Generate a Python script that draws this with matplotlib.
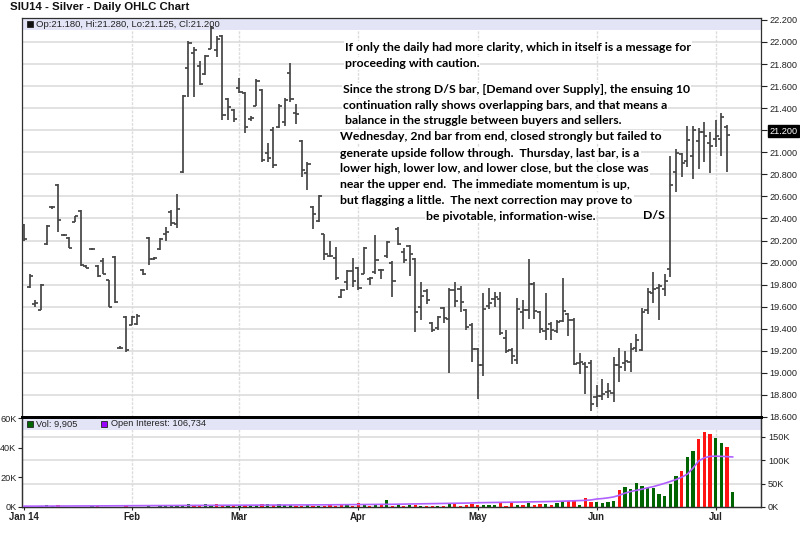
import numpy as np
import pandas as pd
import matplotlib
matplotlib.use("Agg")
import matplotlib.pyplot as plt
from matplotlib.patches import Rectangle

plt.rcParams['font.family'] = ['Liberation Sans', 'DejaVu Sans']

# ---------------------------------------------------------------- data
holidays = ['2014-01-20', '2014-02-17', '2014-04-18', '2014-05-26', '2014-07-04']
sessions = pd.bdate_range('2014-01-06', '2014-07-07', freq='C', holidays=holidays)

opens = [20.34, 19.78, 19.62, 19.57, 20.17, 20.50, 20.70, 20.25, 20.22, 20.37,
         20.47, 19.97, 20.12, 19.97, 20.01, 19.84, 20.05, 19.23, 19.51, 19.43,
         19.44, 19.93, 20.22, 20.03, 20.12, 20.26, 20.46, 20.35, 20.82, 21.76,
         21.90, 21.78, 21.71, 21.94, 21.93, 22.05, 21.48, 21.38, 21.58, 21.54,
         21.30, 21.42, 21.56, 20.99, 21.20, 21.23, 21.27, 21.72, 21.36, 21.10,
         20.81, 20.50, 20.38, 20.26, 20.06, 20.04, 19.69, 19.82, 19.92, 19.95,
         19.90, 19.85, 19.91, 19.93, 20.06, 20.00, 20.30, 20.10, 20.15, 20.03,
         19.60, 19.74, 19.45, 19.41, 19.59, 19.49, 19.75, 19.76, 19.57, 19.43,
         19.22, 19.07, 19.61, 19.67, 19.67, 19.32, 19.21, 19.12, 19.55, 19.57,
         19.81, 19.55, 19.38, 19.44, 19.38, 19.47, 19.53, 19.48, 19.09, 19.08,
         19.09, 18.78, 18.79, 18.83, 18.82, 19.07, 19.09, 19.10, 19.23, 19.21,
         19.57, 19.72, 19.77, 19.76, 19.94, 20.82, 20.98, 20.92, 20.97, 21.10,
         21.18, 21.08, 21.12, 21.12, 21.23]
highs = [20.35, 19.90, 19.66, 19.81, 20.34, 20.51, 20.71, 20.26, 20.23, 20.42,
         20.48, 19.98, 20.13, 19.98, 20.04, 19.84, 20.06, 19.24, 19.52, 19.52,
         19.53, 19.94, 20.23, 20.05, 20.22, 20.32, 20.48, 20.62, 21.52, 22.01,
         21.95, 21.83, 21.88, 22.14, 22.05, 22.06, 21.49, 21.39, 21.67, 21.55,
         21.33, 21.66, 21.57, 21.08, 21.23, 21.44, 21.49, 21.81, 21.44, 21.11,
         20.91, 20.51, 20.61, 20.26, 20.20, 20.14, 19.76, 19.93, 20.04, 19.96,
         20.14, 19.87, 20.25, 19.94, 20.20, 20.01, 20.32, 20.13, 20.16, 20.04,
         19.82, 19.76, 19.46, 19.52, 19.60, 19.77, 19.82, 19.79, 19.58, 19.45,
         19.23, 19.72, 19.77, 19.73, 19.73, 19.39, 19.23, 19.68, 19.66, 20.03,
         19.82, 19.56, 19.72, 19.46, 19.48, 19.86, 19.54, 19.50, 19.18, 19.10,
         19.12, 18.89, 18.94, 18.91, 19.14, 19.23, 19.20, 19.27, 19.35, 19.59,
         19.77, 19.91, 19.81, 19.90, 20.97, 21.03, 20.99, 21.24, 21.24, 21.22,
         21.27, 21.18, 21.29, 21.36, 21.25]
lows = [20.20, 19.77, 19.60, 19.57, 20.16, 20.49, 20.28, 20.24, 20.13, 20.37,
        19.97, 19.95, 20.11, 19.87, 19.90, 19.60, 19.63, 19.22, 19.19, 19.43,
        19.43, 19.89, 19.98, 20.02, 20.11, 20.20, 20.33, 20.31, 20.81, 21.50,
        21.50, 21.61, 21.70, 21.94, 21.86, 21.29, 21.29, 21.27, 21.54, 21.17,
        21.28, 21.42, 20.91, 20.91, 20.86, 21.22, 21.24, 21.46, 21.26, 20.78,
        20.66, 20.30, 20.37, 20.02, 20.05, 19.84, 19.68, 19.75, 19.78, 19.75,
        19.90, 19.80, 19.90, 19.85, 20.04, 19.69, 20.16, 20.00, 19.88, 19.37,
        19.48, 19.62, 19.37, 19.39, 19.45, 19.00, 19.60, 19.55, 19.39, 19.10,
        18.76, 18.97, 19.58, 19.60, 19.34, 19.18, 19.08, 19.08, 19.40, 19.49,
        19.49, 19.36, 19.30, 19.30, 19.36, 19.46, 19.33, 19.07, 18.99, 18.81,
        18.65, 18.69, 18.75, 18.77, 18.74, 18.92, 19.02, 19.01, 19.19, 19.20,
        19.53, 19.63, 19.48, 19.70, 19.87, 20.64, 20.78, 20.87, 20.76, 20.85,
        20.91, 20.81, 21.05, 20.97, 20.82]
closes = [20.21, 19.88, 19.63, 19.80, 20.33, 20.50, 20.39, 20.25, 20.13, 20.42,
          19.98, 19.95, 20.12, 19.88, 19.90, 19.60, 19.64, 19.23, 19.21, 19.51,
          19.52, 19.90, 20.03, 20.04, 20.21, 20.28, 20.36, 20.49, 21.51, 21.99,
          21.93, 21.62, 21.87, 22.13, 22.03, 21.34, 21.41, 21.30, 21.55, 21.23,
          21.31, 21.65, 20.93, 20.95, 20.88, 21.42, 21.47, 21.48, 21.35, 20.84,
          20.89, 20.44, 20.60, 20.08, 20.06, 19.86, 19.75, 19.92, 19.83, 19.77,
          20.13, 19.86, 20.02, 19.93, 20.19, 19.83, 20.17, 20.02, 20.08, 19.55,
          19.70, 19.66, 19.39, 19.51, 19.50, 19.75, 19.65, 19.64, 19.42, 19.22,
          19.07, 19.58, 19.63, 19.69, 19.36, 19.20, 19.15, 19.58, 19.57, 19.81,
          19.56, 19.40, 19.40, 19.39, 19.46, 19.56, 19.48, 19.08, 19.10, 19.05,
          18.72, 18.79, 18.81, 18.84, 19.07, 19.05, 19.11, 19.22, 19.30, 19.55,
          19.73, 19.76, 19.79, 19.83, 20.70, 20.99, 20.90, 21.11, 21.20, 21.18,
          21.15, 21.06, 21.15, 21.32, 21.16]

# latest (partial) session quote
last_open, last_high, last_low, last_close = 21.180, 21.280, 21.125, 21.200

volume = [100, 100, 150, 600, 1300, 700, 1100, 200, 150, 150,
          200, 150, 900, 900, 200, 150, 300, 200, 900, 300,
          200, 300, 1000, 300, 900, 1400, 1500, 500, 1400, 1900,
          1100, 1000, 2000, 1300, 2000, 1200, 1300, 1000, 1000, 1300,
          1400, 1400, 1800, 1800, 1100, 1800, 1200, 1100, 400, 1000,
          1100, 1000, 400, 1000, 1200, 1000, 1100, 1900, 500, 2400,
          1700, 1000, 1400, 1200, 4500, 600, 2200, 1000, 1200, 1500,
          800, 1000, 800, 800, 900, 2000, 2000, 1000, 1200, 2000,
          1500, 1500, 1300, 1500, 2700, 900, 2700, 1500, 1500, 2700,
          1500, 2000, 2000, 1100, 2700, 3900, 4100, 4100, 1500, 6400,
          3400, 3200, 2900, 3400, 3900, 11800, 13600, 12200, 16300, 14100,
          12900, 12500, 9100, 7200, 15300, 20900, 24300, 33900, 38000, 45900,
          50600, 49100, 46400, 43000, 40300, 9905]

open_interest = [1800, 1800, 1850, 1900, 1950, 2000, 2050, 2100, 2150, 2200,
                 2250, 2300, 2350, 2400, 2450, 2500, 2550, 2600, 2700, 2800,
                 2850, 2900, 2950, 3000, 3050, 3100, 3150, 3250, 3350, 3400,
                 3450, 3500, 3550, 3600, 3650, 3700, 3750, 3800, 3850, 3900,
                 3950, 4000, 4050, 4100, 4150, 4200, 4250, 4300, 4350, 4400,
                 4450, 4500, 4550, 4600, 4700, 4800, 4900, 5000, 5100, 5200,
                 5300, 5400, 5500, 5600, 5700, 5800, 6000, 6200, 6400, 6600,
                 6800, 7000, 7200, 7400, 7600, 7800, 8000, 8200, 8400, 8600,
                 9000, 9300, 9500, 9700, 9900, 10100, 10300, 10500, 10700, 10900,
                 11100, 11300, 11500, 11800, 12100, 12400, 12800, 13200, 13700, 14200,
                 15000, 17000, 18000, 19500, 21500, 25000, 29500, 33000, 35500, 38000,
                 41000, 43500, 47000, 50500, 54500, 58500, 63500, 70000, 83000, 98000,
                 105000, 108000, 108500, 108000, 107500, 106734]

price_ticks = [18.6, 18.8, 19.0, 19.2, 19.4, 19.6, 19.8, 20.0, 20.2, 20.4,
               20.6, 20.8, 21.0, 21.2, 21.4, 21.6, 21.8, 22.0, 22.2]
vol_ticks = [0, 20000, 40000, 60000]
oi_ticks = [0, 50000, 100000, 150000]

notes = [
    "If only the daily had more clarity, which in itself is a message for",
    "proceeding with caution.",
    "Since the strong D/S bar, [Demand over Supply], the ensuing 10",
    "continuation rally shows overlapping bars, and that means a",
    "balance in the struggle between buyers and sellers.",
    "Wednesday, 2nd bar from end, closed strongly but failed to",
    "generate upside follow through.  Thursday, last bar, is a",
    "lower high, lower low, and lower close, but the close was",
    "near the upper end.  The immediate momentum is up,",
    "but flagging a little.  The next correction may prove to",
    "be pivotable, information-wise.",
]

# ---------------------------------------------------------------- layout
W, H = 800, 542
fig = plt.figure(figsize=(W / 100, H / 100), dpi=100)
fig.patch.set_facecolor('white')

def fx(px):
    return px / W

def fy(py):
    return 1 - py / H

ax = fig.add_axes([fx(22), fy(417), 739 / W, 399 / H])
axv = fig.add_axes([fx(22), fy(507), 739 / W, 90 / H])

bar_color = '#454545'
grid_color = '#dadada'
up_color = '#006400'
down_color = '#ff1414'
oi_color = '#b060ff'
band_color = '#e3e5f7'

n_px = len(closes)
x = np.arange(n_px)
xv = np.arange(len(volume))
xlim = (-0.35, 130.0)

# month boundaries
month_start = [0] + [k for k in range(1, len(sessions)) if sessions[k].month != sessions[k - 1].month]
month_labels = ['Jan 14'] + [sessions[k].strftime('%b') for k in month_start[1:]]

# ---------------------------------------------------------------- price panel
ax.set_xlim(*xlim)
ax.set_ylim(18.6, 22.217)
ax.add_patch(Rectangle((0, 0.970), 1, 0.03, transform=ax.transAxes,
                       facecolor=band_color, edgecolor='none', zorder=1))

ax.vlines(x, lows, highs, color=bar_color, lw=1.25, zorder=3)
ax.hlines(opens, x - 0.55, x, color=bar_color, lw=1.25, zorder=3)
ax.hlines(closes, x, x + 0.55, color=bar_color, lw=1.25, zorder=3)

ax.set_yticks(price_ticks)
ax.set_yticklabels([f'{v:.3f}' for v in price_ticks])
ax.yaxis.tick_right()
ax.tick_params(axis='y', direction='out', length=4, width=0.8, pad=2,
               labelsize=6.6, colors='#222222')
for lab in ax.get_yticklabels():
    if lab.get_text() == f'{last_close:.3f}':
        lab.set_color('white')
        lab.set_bbox(dict(facecolor='black', edgecolor='black', pad=1.2))
ax.set_xticks(month_start[1:])
ax.tick_params(axis='x', length=0, labelbottom=False)
ax.grid(axis='y', color=grid_color, lw=1.1, zorder=0)
ax.grid(axis='x', color='#dcdcdc', lw=1.0, ls=(0, (2, 1)), zorder=0)
ax.set_axisbelow(True)
for side in ['left', 'top', 'right']:
    ax.spines[side].set_color('#303030')
    ax.spines[side].set_linewidth(0.9)
ax.spines['bottom'].set_color('black')
ax.spines['bottom'].set_linewidth(2.0)

# ---------------------------------------------------------------- volume panel
vol_top = 60700
oi_top = 192000
all_closes = closes + [last_close]
vol_colors = [up_color] + [up_color if all_closes[k] >= all_closes[k - 1] else down_color
                           for k in range(1, len(all_closes))]

axv.set_xlim(*xlim)
axv.set_ylim(0, vol_top)
axv.add_patch(Rectangle((0, 0.855), 1, 0.145, transform=axv.transAxes,
                        facecolor=band_color, edgecolor='none', zorder=1))
for t in oi_ticks[1:]:
    axv.axhline(t * vol_top / oi_top, color=grid_color, lw=1.1, zorder=0)
for k in month_start[1:]:
    axv.axvline(k, color='#dcdcdc', lw=1.0, ls=(0, (2, 1)), zorder=0)
axv.bar(xv, volume, width=0.58, color=vol_colors, zorder=3)

axv.set_yticks(vol_ticks)
axv.set_yticklabels([f'{v // 1000}K' for v in vol_ticks])
axv.tick_params(axis='y', direction='out', length=3, width=0.8, pad=1,
                labelsize=6.6, colors='#222222')
axv.set_xticks(month_start)
axv.set_xticklabels(month_labels, fontweight='bold')
axv.tick_params(axis='x', direction='out', length=2, width=0.8, pad=1.5,
                labelsize=6.9, colors='#222222')

axo = axv.twinx()
axo.set_ylim(0, oi_top)
axo.plot(xv, open_interest, color=oi_color, lw=1.2, zorder=4)
axo.set_yticks(oi_ticks)
axo.set_yticklabels([f'{v // 1000}K' for v in oi_ticks])
axo.tick_params(axis='y', direction='out', length=3, width=0.8, pad=2,
                labelsize=6.6, colors='#222222')

for a in (axv, axo):
    for side in ['left', 'bottom', 'right']:
        a.spines[side].set_color('#303030')
        a.spines[side].set_linewidth(0.9)
    a.spines['top'].set_color('black')
    a.spines['top'].set_linewidth(2.0)

# ---------------------------------------------------------------- text
fig.text(fx(10), fy(7.5), 'SIU14 - Silver - Daily OHLC Chart', fontsize=8.2,
         fontweight='bold', va='center', ha='left', color='#111111')

def legend_square(px, py, color):
    fig.add_artist(Rectangle((fx(px), fy(py + 5.5)), 5.5 / W, 5.5 / H,
                             transform=fig.transFigure, facecolor=color,
                             edgecolor='#222222', lw=0.6))

legend_square(27, 21.5, '#111111')
fig.text(fx(36.5), fy(24.5),
         f'Op:{last_open:.3f}, Hi:{last_high:.3f}, Lo:{last_low:.3f}, Cl:{last_close:.3f}',
         fontsize=6.8, va='center', ha='left', color='#222222')

legend_square(27, 421, up_color)
fig.text(fx(36), fy(424), f'Vol: {volume[-1]:,}', fontsize=6.7,
         va='center', ha='left', color='#222222')
legend_square(101, 421, '#9900ff')
fig.text(fx(111), fy(424), f'Open Interest: {open_interest[-1]:,}', fontsize=6.7,
         va='center', ha='left', color='#222222')

note_font = dict(fontsize=8.8, fontweight='bold', family=['Lato', 'DejaVu Sans'],
                 va='center', ha='left', color='black')
note_pos = [(345, 47.5), (345, 63.3), (343, 89.3), (343, 105.3), (345, 120.7),
            (340.5, 136.7), (340.5, 153.0), (340.5, 168.7), (340.5, 184.5),
            (340.5, 200.8), (426, 216.7)]
for line, (px, py) in zip(notes, note_pos):
    fig.text(fx(px), fy(py), line,
             bbox=dict(facecolor='white', edgecolor='none', pad=0.6), **note_font)
fig.text(fx(643), fy(215), 'D/S', **note_font)

fig.savefig('out.png', dpi=100)
